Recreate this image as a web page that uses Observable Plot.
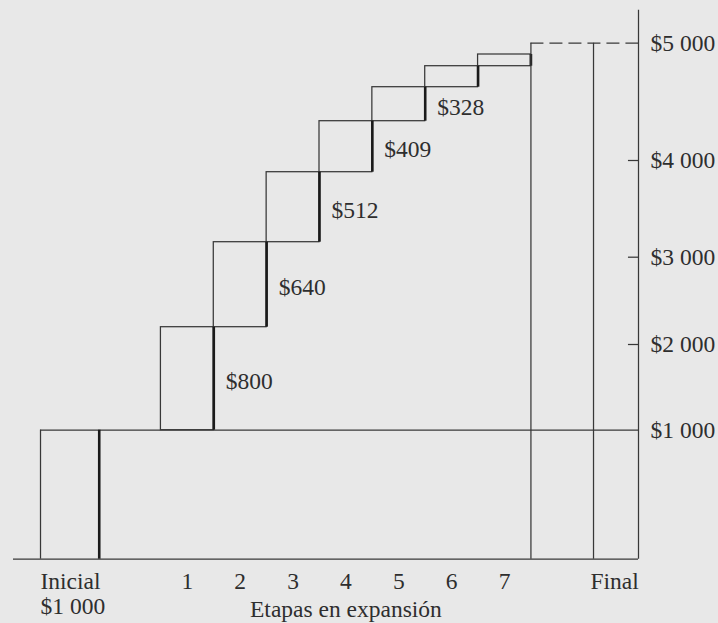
<!DOCTYPE html>
<html><head><meta charset="utf-8">
<script src="https://cdn.jsdelivr.net/npm/d3@7"></script>
<script src="https://cdn.jsdelivr.net/npm/@observablehq/plot@0.6"></script>
<style>
html,body{margin:0;padding:0;background:#e8e8e8;}
#chart{position:relative;width:718px;height:623px;}
#chart svg{position:absolute;left:0;top:0;}
</style></head><body><div id="chart"></div>
<script>
// ---- data ----
const stageNumbers = [1, 2, 3, 4, 5, 6, 7];
const initialDeposit = 1000;
const stageIncrements = [800, 640, 512, 409, 328, 262, 210];
const stageIncrementLabels = ["$800", "$640", "$512", "$409", "$328", "", ""];
const finalTotal = 5000;
const yTickValues = [1000, 2000, 3000, 4000, 5000];
const yTickLabels = ["$1 000", "$2 000", "$3 000", "$4 000", "$5 000"];
const yTickMarks = [2000, 3000, 4000];
const initialLabel = "Inicial";
const initialValueLabel = "$1 000";
const finalLabel = "Final";
const xTitle = "Etapas en expansión";

// ---- layout: the original is a schematic, not-to-scale drawing ----
// drawn height (px above the baseline) of each cumulative level, and of each axis tick
const X_START = -2.789, X_AXIS = 9.035;
const INITIAL = [-2.278, -1.167];
const FINAL = [7, 8.184];
const levelDrawn = [0, 129, 232, 317, 387, 438, 472, 493, 504.7, 516];
const tickDrawn = [0, 129, 214.7, 302, 398.7, 516];
const AXIS_TOP = 5280;
const LINE = "#383838", THICK = "#1a1a1a", INK = "#2e2e2e";
const thin = {stroke: LINE, strokeWidth: 1.25};
const thick = {stroke: THICK, strokeWidth: 2.6};

// cumulative levels
const levels = [initialDeposit];
stageIncrements.forEach(v => levels.push(levels[levels.length - 1] + v));
const stages = stageNumbers.map((k, i) => ({stage: k, lo: levels[i], hi: levels[i + 1], label: stageIncrementLabels[i]}));

const levelMap = d3.scaleLinear().domain([0, ...levels, finalTotal]).range(levelDrawn);
const tickMap = d3.scaleLinear().domain([0, ...yTickValues]).range(tickDrawn);

const common = {
  width: 718, height: 623, marginLeft: 13, marginRight: 80, marginTop: 42.7, marginBottom: 64.3,
  style: {background: "transparent", fontFamily: "Liberation Serif", fontSize: "23.5px", color: INK}
};
const zero = () => 0;

const main = Plot.plot({
  ...common,
  x: {domain: [X_START, X_AXIS], axis: null},
  y: {domain: [0, 516], transform: v => levelMap(v), axis: null},
  marks: [
    Plot.ruleY([0], {x1: X_START, x2: X_AXIS, ...thin}),
    Plot.ruleY([initialDeposit], {x1: INITIAL[0], x2: X_AXIS, ...thin}),
    Plot.ruleX([INITIAL[0]], {y1: 0, y2: initialDeposit, ...thin}),
    Plot.ruleX([INITIAL[1]], {y1: 0, y2: initialDeposit, ...thick}),
    Plot.rect(stages, {x1: d => d.stage - 1, x2: d => d.stage, y1: "lo", y2: "hi", fill: "none", ...thin}),
    Plot.ruleX(stages, {x: "stage", y1: "lo", y2: "hi", ...thick}),
    Plot.ruleX(FINAL, {y1: 0, y2: finalTotal, ...thin}),
    Plot.ruleY([finalTotal], {x1: FINAL[0], x2: X_AXIS, ...thin, strokeDasharray: "13,6"}),
    Plot.text(stages.filter(d => d.label), {x: "stage", y: d => (d.lo + d.hi) / 2, text: "label", textAnchor: "start", dx: 12, dy: 3, fill: INK}),
    Plot.text(stageNumbers, {x: d => d - 0.5, y: zero, text: d => String(d), dy: 30, lineAnchor: "bottom", fill: INK}),
    Plot.text([initialLabel + "\n" + initialValueLabel], {x: INITIAL[0], y: zero, text: d => d, textAnchor: "start", lineAnchor: "bottom", dy: 55, lineHeight: 1.07, fill: INK}),
    Plot.text([finalLabel], {x: FINAL[1], y: zero, text: d => d, textAnchor: "start", dx: -3, dy: 30, lineAnchor: "bottom", fill: INK}),
    Plot.text([xTitle], {x: 3.5, y: zero, text: d => d, dy: 58, lineAnchor: "bottom", fill: INK})
  ]
});

const axis = Plot.plot({
  ...common,
  x: {domain: [X_START, X_AXIS], axis: null},
  y: {domain: [0, 516], transform: v => tickMap(v), axis: null},
  marks: [
    Plot.ruleX([X_AXIS], {y1: 0, y2: AXIS_TOP, ...thin}),
    Plot.ruleY(yTickMarks, {x1: X_AXIS - 0.19, x2: X_AXIS, ...thin}),
    Plot.text(yTickValues, {x: X_AXIS, y: d => d, text: (d, i) => yTickLabels[i], textAnchor: "start", dx: 12, fill: INK})
  ]
});

const root = document.getElementById("chart");
root.append(main, axis);
</script></body></html>
